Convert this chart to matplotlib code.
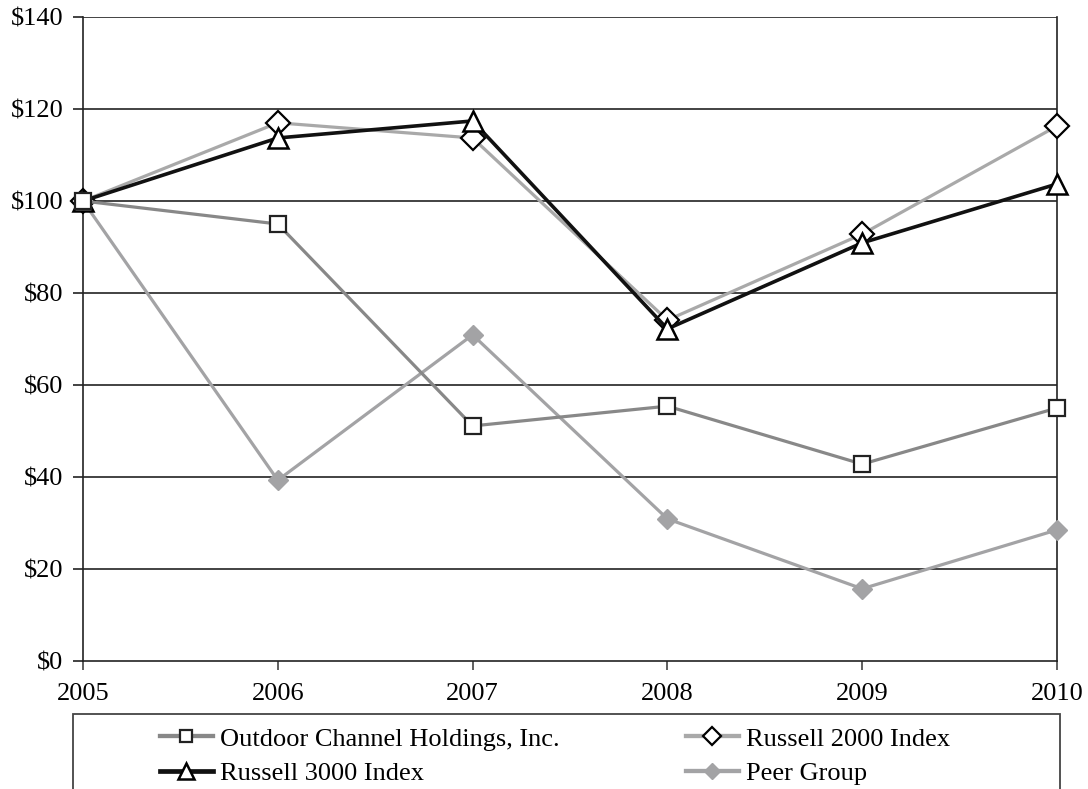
import matplotlib
matplotlib.use("Agg")
import matplotlib.pyplot as plt
from matplotlib.patches import Rectangle
from matplotlib.lines import Line2D

years = [2005, 2006, 2007, 2008, 2009, 2010]
outdoor = [100, 95.0, 51.1, 55.4, 42.8, 55.0]
russell2000 = [100, 117.0, 113.7, 74.1, 92.8, 116.3]
russell3000 = [100, 113.7, 117.4, 72.2, 90.9, 103.7]
peer = [100, 39.3, 70.9, 30.9, 15.7, 28.5]
y_ticks = [0, 20, 40, 60, 80, 100, 120, 140]
y_labels = ["$0", "$20", "$40", "$60", "$80", "$100", "$120", "$140"]

plt.rcParams["font.family"] = ["Liberation Serif", "DejaVu Serif"]
FS = 19

W, H = 1088, 789
fig = plt.figure(figsize=(W / 100, H / 100), dpi=100)
ax = fig.add_axes([83 / W, (H - 661) / H, (1057 - 83) / W, (661 - 17) / H])

ax.plot(years, peer, color="#a3a3a5", lw=2.3, marker="D", ms=10,
        mfc="#a3a3a5", mec="#a3a3a5", zorder=3, label="Peer Group", clip_on=False)
ax.plot(years, russell2000, color="#a9a9a9", lw=2.3, marker="D", ms=12,
        mfc="white", mec="black", mew=1.6, zorder=4, label="Russell 2000 Index", clip_on=False)
ax.plot(years, russell3000, color="#111111", lw=2.6, marker="^", ms=14,
        mfc="white", mec="black", mew=1.8, zorder=5, label="Russell 3000 Index", clip_on=False)
ax.plot(years, outdoor, color="#888888", lw=2.3, marker="s", ms=11,
        mfc="white", mec="#222222", mew=1.6, zorder=6,
        label="Outdoor Channel Holdings, Inc.", clip_on=False)

ax.set_xlim(2005, 2010)
ax.set_ylim(0, 140)
ax.set_xticks(years)
ax.set_xticklabels([str(y) for y in years], fontsize=FS)
ax.set_yticks(y_ticks)
ax.set_yticklabels(y_labels, fontsize=FS)
ax.tick_params(axis="y", length=7, width=1.2, direction="out", pad=7, color="#222222")
ax.tick_params(axis="x", length=6.5, width=1.2, direction="out", pad=9, color="#444444")

for v in y_ticks[1:]:
    ax.axhline(v, color="#222222", lw=1.2, zorder=1)

ax.spines["top"].set_visible(False)
for s in ["left", "right", "bottom"]:
    ax.spines[s].set_color("#222222")
    ax.spines[s].set_linewidth(1.2)

# legend frame, open at the bottom edge of the figure
fig.patches.append(Rectangle((73 / W, -0.05), (1060 - 73) / W, (H - 714) / H + 0.05,
                             transform=fig.transFigure, fill=False,
                             edgecolor="#444444", lw=1.3))

h = {l.get_label(): l for l in ax.get_lines()}
order = ["Outdoor Channel Holdings, Inc.", "Russell 3000 Index",
         "Russell 2000 Index", "Peer Group"]
handles = []
for name in order:
    ln = h[name]
    handles.append(Line2D([], [], color=ln.get_color(), lw=ln.get_linewidth() + 0.8,
                          marker=ln.get_marker(), ms=ln.get_markersize() * 0.8,
                          mfc=ln.get_markerfacecolor(), mec=ln.get_markeredgecolor(),
                          mew=ln.get_markeredgewidth()))
fig.legend(handles, order, ncol=2, frameon=False, fontsize=FS,
           loc="center", bbox_to_anchor=(555 / W, 1 - 756 / H),
           handlelength=2.0, handletextpad=0.27, columnspacing=4.8, labelspacing=0.4)

fig.savefig("out.png", dpi=100)
